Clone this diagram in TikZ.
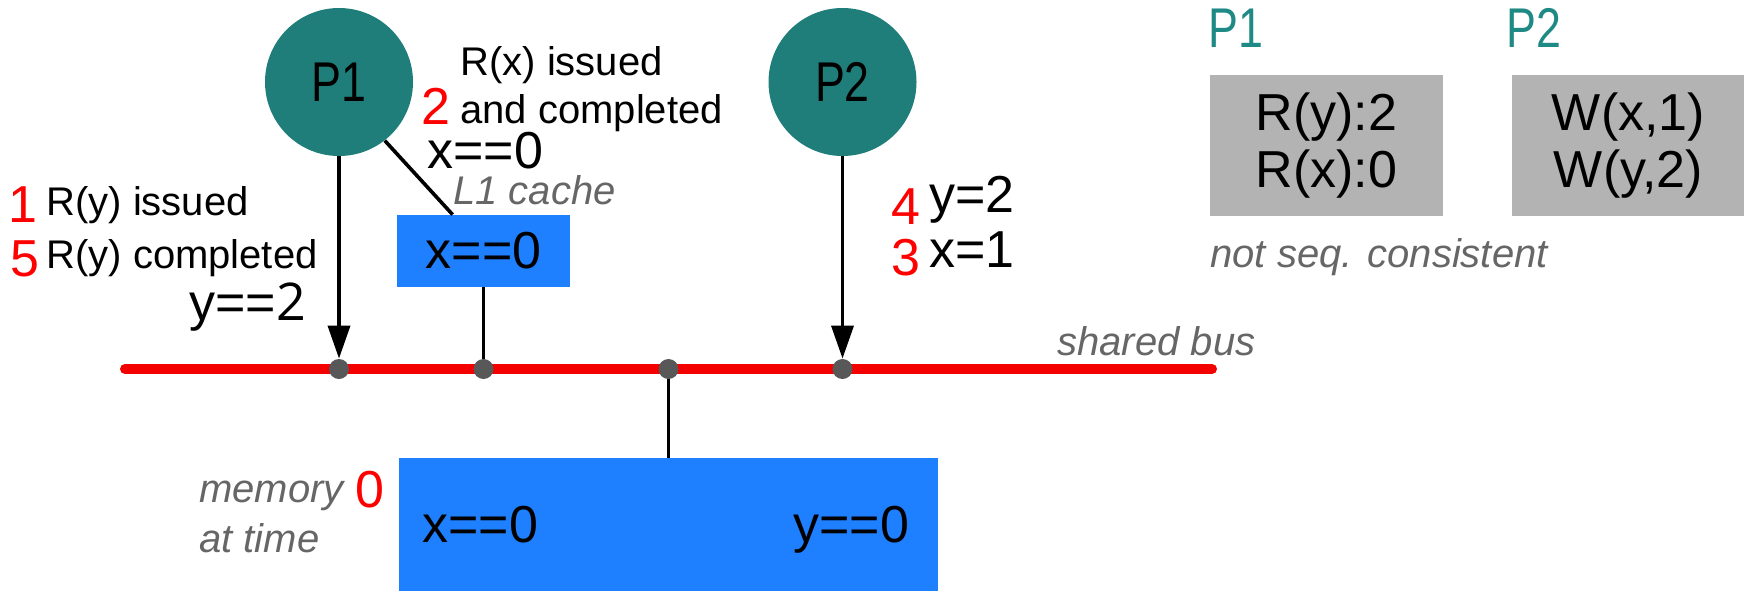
\documentclass[tikz,border=0pt]{standalone}
\usepackage{fontspec}
\setmainfont{Liberation Sans}
\newfontfamily\altfont{Open Sans}
\usetikzlibrary{arrows.meta}
\definecolor{tealfill}{RGB}{31,126,122}
\definecolor{bluefill}{RGB}{31,128,255}
\definecolor{grayfill}{RGB}{179,179,179}
\definecolor{notegray}{RGB}{102,102,102}
\definecolor{dotgray}{RGB}{88,88,88}
\definecolor{tealtext}{RGB}{31,138,133}
\definecolor{busred}{RGB}{245,0,0}
\newcommand{\narrow}[1]{\scalebox{0.8}[1]{#1}}
\begin{document}
\begin{tikzpicture}[x=0.5pt,y=-0.5pt,
  proc/.style={circle,fill=tealfill,minimum size=74pt,inner sep=0pt,font=\fontsize{28}{30}\selectfont},
  bluebox/.style={fill=bluefill,inner sep=0pt},
  graybox/.style={fill=grayfill,inner sep=0pt,minimum width=116.5pt,minimum height=70.5pt,align=center,font=\fontsize{26}{28.5}\selectfont},
  txt/.style={inner sep=0pt,anchor=base west},
  big/.style={font=\fontsize{26}{28}\selectfont},
  small/.style={font=\fontsize{20}{22}\selectfont},
  rednum/.style={text=red,font=\fontsize{26}{28}\selectfont},
  note/.style={font=\fontsize{20}{22}\selectfont\itshape,text=notegray},
  ptitle/.style={font=\fontsize{28}{30}\selectfont,text=tealtext},
  dot/.style={circle,fill=dotgray,minimum size=10pt,inner sep=0pt},
  conn/.style={line width=1.8pt,black},
  arr/.style={-{Triangle[length=16.5pt,width=11pt]}},
  bus/.style={line width=5pt,busred,line cap=round}
]
\useasboundingbox (0,0) rectangle (1744,590);

% memory box (drawn first)
\node[bluebox,minimum width=269.5pt,minimum height=80pt] (mem) at (668.5,538) {};

% processors
\node[proc] (P1) at (339,82) {\narrow{P1}};
\node[proc] (P2) at (842.5,82) {\narrow{P2}};

% L1 cache
\node[bluebox,minimum width=86.5pt,minimum height=36pt,font=\fontsize{26}{28}\selectfont] (cache) at (483.5,251) {x==0};

% bus
\coordinate (busL) at (125,369);
\coordinate (busR) at (1212,369);
\draw[bus] (busL) -- (busR);

% dots
\node[dot] (d1) at (339,369) {};
\node[dot] (d2) at (483.5,369) {};
\node[dot] (d3) at (668.5,369) {};
\node[dot] (d4) at (842.5,369) {};

% connectors
\draw[conn,arr] (P1) -- (d1);
\draw[conn] (P1.-52) -- ([xshift=28pt]cache.north west);
\draw[conn] (cache) -- (d2);
\draw[conn] (d3) -- (mem);
\draw[conn,arr] (P2) -- (d4);

% labels near P1
\node[txt,small] (trx) at (460,75) {R(x) issued};
\node[txt,rednum] (n2) at (421,124) {2};
\node[txt,small] (tand) at (460,123) {and completed};
\node[txt,big] (tx0) at (427,168) {x==0};
\node[txt,note] (l1) at (453,204) {L1 cache};
\node[txt,rednum] (n1) at (8,222) {1};
\node[txt,small] (tryi) at (46,215) {R(y) issued};
\node[txt,rednum] (n5) at (10,276) {5};
\node[txt,small] (tryc) at (46,268) {R(y) completed};
\node[txt,big] (ty2) at (189,320) {y=={\altfont 2}};

% labels near P2
\node[txt,rednum] (n4) at (891,224) {4};
\node[txt,big] (ty2b) at (929,212) {y=2};
\node[txt,rednum] (n3) at (891,275) {3};
\node[txt,big] (tx1) at (929,267) {x=1};

% right panel
\node[txt,ptitle] (p1t) at (1208,47) {\narrow{P1}};
\node[txt,ptitle] (p2t) at (1506,47) {\narrow{P2}};
\node[graybox] (g1) at (1326.5,145.5) {R(y):2\\R(x):0};
\node[graybox] (g2) at (1628.5,145.5) {W(x,1)\\W(y,2)};
\node[txt,note] (nsc) at (1210,267) {not seq. consistent};

% bus label
\node[txt,note] (sb) at (1057,355) {shared bus};

% memory labels
\node[txt,note] (mem1) at (199,502) {memory};
\node[txt,text=red,font=\fontsize{26}{28}\selectfont] (n0) at (355,507) {0};
\node[txt,note] (mem2) at (199,552) {at time};
\node[txt,big] (mx) at (422,542) {x==0};
\node[txt,big] (my) at (793,542) {y==0};
\end{tikzpicture}
\end{document}
